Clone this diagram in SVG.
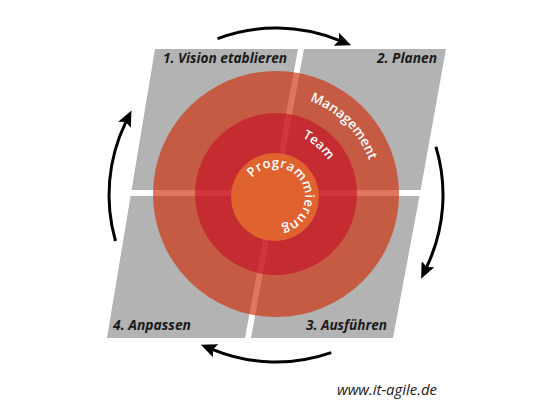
<svg xmlns="http://www.w3.org/2000/svg" width="550" height="412" viewBox="0 0 550 412">
  <style>
    .panel { fill: #b3b3b3; }
    .plabel { font-family: "Open Sans", "Liberation Sans", sans-serif; font-style: italic; font-weight: 700; font-size: 14px; fill: #1a1a1a; }
    .ring { font-family: "Open Sans", "Liberation Sans", sans-serif; font-weight: 600; fill: #ffffff; }
    .arr { fill: none; stroke: #000; stroke-width: 3; marker-end: url(#head); }
  </style>
  <defs>
    <marker id="head" markerUnits="userSpaceOnUse" viewBox="0 0 16 14" markerWidth="16" markerHeight="14" refX="3" refY="7" orient="auto">
      <path d="M0,0 L16,7 L0,14 L3,7 z" fill="#000"/>
    </marker>
    <path id="pMgmt" d="M276,95 A99,99 0 0 1 375,194"/>
    <path id="pTeam" d="M271.7,132.1 A62,62 0 0 1 337.9,189.7"/>
    <path id="pProg" d="M245,197 A30,30 0 1 1 260.9,223.5"/>
  </defs>
  <rect width="550" height="412" fill="#ffffff"/>

  <g id="panel-1">
    <polygon class="panel" points="155,49 298,49 272.1,190 131.6,190"/>
  </g>
  <g id="panel-2">
    <polygon class="panel" points="304,49 446,49 420.6,190 278.1,190"/>
  </g>
  <g id="panel-4">
    <polygon class="panel" points="130.6,196 271,196 245,338 107,338"/>
  </g>
  <g id="panel-3">
    <polygon class="panel" points="277,196 419.5,196 393,338 251,338"/>
  </g>

  <g id="management">
    <circle cx="276" cy="194" r="123" fill="rgb(208,41,3)" fill-opacity="0.64"/>
  </g>
  <g id="team">
    <circle cx="276" cy="194" r="81" fill="rgb(195,13,40)" fill-opacity="0.6"/>
  </g>
  <g id="programmierung">
    <circle cx="275" cy="197" r="44" fill="#e0632f"/>
  </g>

  <g id="labels">
    <text class="plabel" x="163" y="63" textLength="124" lengthAdjust="spacingAndGlyphs">1. Vision etablieren</text>
    <text class="plabel" x="377" y="63" textLength="60" lengthAdjust="spacingAndGlyphs">2. Planen</text>
    <text class="plabel" x="306" y="330" textLength="81" lengthAdjust="spacingAndGlyphs">3. Ausführen</text>
    <text class="plabel" x="113" y="330" textLength="78" lengthAdjust="spacingAndGlyphs">4. Anpassen</text>
    <text class="ring" font-size="13.5"><textPath href="#pMgmt" startOffset="50%" text-anchor="middle">Management</textPath></text>
    <text class="ring" font-size="13"><textPath href="#pTeam" startOffset="50%" text-anchor="middle">Team</textPath></text>
    <text class="ring" font-size="13" letter-spacing="0.5"><textPath href="#pProg" startOffset="50%" text-anchor="middle">Programmierung</textPath></text>
    <text x="337" y="395" textLength="100" lengthAdjust="spacingAndGlyphs" style="font-family: 'Open Sans', 'Liberation Sans', sans-serif; font-style: italic; font-size: 14px; fill: #1a1a1a;">www.it-agile.de</text>
  </g>

  <g id="connectors">
    <path class="arr" d="M217.5,38.6 A167,167 0 0 1 339.1,40.4"/>
    <path class="arr" d="M435.9,146.7 A167,167 0 0 1 426.7,266.9"/>
    <path class="arr" d="M331.2,352.6 A167,167 0 0 1 212.9,349.6"/>
    <path class="arr" d="M115.5,241.0 A167,167 0 0 1 125.8,122.1"/>
  </g>
</svg>
